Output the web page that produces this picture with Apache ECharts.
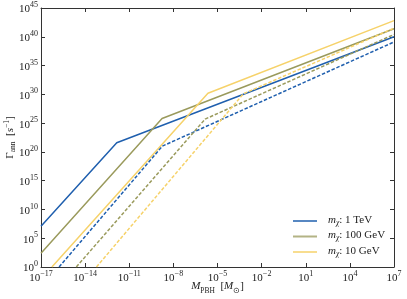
<!DOCTYPE html>
<html><head><meta charset="utf-8">
<script src="https://cdn.jsdelivr.net/npm/echarts@6/dist/echarts.min.js"></script>
<style>html,body{margin:0;padding:0;background:#fff}#c{width:407px;height:299px}</style>
</head><body><div id="c"></div>
<script>
// log10 of PBH mass [M_sun] and log10 of annihilation rate [s^-1]
const mass_1TeV      = [-17, -11.85, 7];
const rate_1TeV      = [7.07, 21.6, 40.0];
const mass_100GeV    = [-17, -8.77, 7];
const rate_100GeV    = [2.38, 25.8, 41.4];
const mass_10GeV     = [-16.26, -5.65, 7];
const rate_10GeV     = [0, 30.2, 42.8];
const mass_1TeV_d    = [-15.77, -8.75, 7];
const rate_1TeV_d    = [0, 21.0, 39.1];
const mass_100GeV_d  = [-14.6, -5.84, 7];
const rate_100GeV_d  = [0, 25.7, 40.4];
const mass_10GeV_d   = [-13.23, -3.24, 7];
const rate_10GeV_d   = [0, 30.1, 41.5];
const legendNames = ['1 TeV', '100 GeV', '10 GeV'];
const xTickExp = [-17, 7, 3];   // min, max, step (decades)
const yTickExp = [0, 45, 5];

const C_BLUE = '#1f5fae', C_OLIVE = '#9a9a5c', C_YELLOW = '#f6d26a';
const FONT = 'Liberation Serif';
const TXT = '#222';

function pts(xs, ys) { return xs.map((x, i) => [Math.pow(10, x), Math.pow(10, ys[i])]); }
function sci(v) {
  const e = Math.round(Math.log10(v));
  return '{b|10}{s|' + (e < 0 ? '\u2212' + (-e) : e) + '}';
}
const tickRich = {
  b: { fontFamily: FONT, fontSize: 11, color: TXT, verticalAlign: 'bottom', lineHeight: 14 },
  s: { fontFamily: FONT, fontSize: 8, color: TXT, verticalAlign: 'top', lineHeight: 14 }
};
const axisLineStyle = { color: '#333', width: 1 };

function line(name, xs, ys, color, dashed) {
  return {
    name: name, type: 'line', data: pts(xs, ys), symbol: 'none', showSymbol: false,
    xAxisIndex: 0, yAxisIndex: 0, clip: true, animation: false,
    lineStyle: { color: color, width: 1.5, type: dashed ? [3.5, 1.8] : 'solid', cap: 'butt' },
    itemStyle: { color: color }
  };
}

const chart = echarts.init(document.getElementById('c'), null, { renderer: 'canvas' });
chart.setOption({
  animation: false,
  backgroundColor: '#fff',
  grid: { left: 41, right: 13, top: 8, bottom: 32, containLabel: false, outerBoundsMode: 'none' },
  xAxis: [
    { type: 'log', logBase: 10, min: Math.pow(10, xTickExp[0]), max: Math.pow(10, xTickExp[1]), interval: xTickExp[2],
      position: 'bottom',
      axisLine: { show: true, lineStyle: axisLineStyle },
      axisTick: { show: true, inside: true, length: 4, lineStyle: axisLineStyle },
      minorTick: { show: false }, splitLine: { show: false },
      axisLabel: { formatter: sci, rich: tickRich, margin: 3 },
      name: '{i|M}{sb|PBH}{t|  [}{i|M}{sb|\u2299}{t|]}', nameLocation: 'middle', nameGap: 14, nameMoveOverlap: false,
      nameTextStyle: { rich: {
        i: { fontFamily: FONT, fontStyle: 'italic', fontSize: 11, color: TXT, verticalAlign: 'top', lineHeight: 14 },
        sb: { fontFamily: FONT, fontSize: 7.5, color: TXT, verticalAlign: 'bottom', lineHeight: 14 },
        t: { fontFamily: FONT, fontSize: 11, color: TXT, verticalAlign: 'top', lineHeight: 14 }
      } } },
    { type: 'log', logBase: 10, min: Math.pow(10, xTickExp[0]), max: Math.pow(10, xTickExp[1]), interval: xTickExp[2],
      position: 'top',
      axisLine: { show: true, lineStyle: axisLineStyle },
      axisTick: { show: true, inside: true, length: 4, lineStyle: axisLineStyle },
      minorTick: { show: false }, splitLine: { show: false }, axisLabel: { show: false } }
  ],
  yAxis: [
    { type: 'log', logBase: 10, min: Math.pow(10, yTickExp[0]), max: Math.pow(10, yTickExp[1]), interval: yTickExp[2],
      position: 'left',
      axisLine: { show: true, lineStyle: axisLineStyle },
      axisTick: { show: true, inside: true, length: 4, lineStyle: axisLineStyle },
      minorTick: { show: false }, splitLine: { show: false },
      axisLabel: { formatter: sci, rich: tickRich, margin: 3 },
      name: '{g|\u0393}{sb|ann}{t|  [}{i|s}{sp|\u22121}{t|]}', nameLocation: 'middle', nameGap: 24, nameRotate: 90, nameMoveOverlap: false,
      nameTextStyle: { rich: {
        g: { fontFamily: FONT, fontSize: 11, color: TXT, verticalAlign: 'middle', lineHeight: 14 },
        i: { fontFamily: FONT, fontStyle: 'italic', fontSize: 11, color: TXT, verticalAlign: 'middle', lineHeight: 14 },
        sb: { fontFamily: FONT, fontSize: 7.5, color: TXT, verticalAlign: 'bottom', lineHeight: 14 },
        sp: { fontFamily: FONT, fontSize: 7.5, color: TXT, verticalAlign: 'top', lineHeight: 14 },
        t: { fontFamily: FONT, fontSize: 11, color: TXT, verticalAlign: 'middle', lineHeight: 14 }
      } } },
    { type: 'log', logBase: 10, min: Math.pow(10, yTickExp[0]), max: Math.pow(10, yTickExp[1]), interval: yTickExp[2],
      position: 'right',
      axisLine: { show: true, lineStyle: axisLineStyle },
      axisTick: { show: true, inside: true, length: 4, lineStyle: axisLineStyle },
      minorTick: { show: false }, splitLine: { show: false }, axisLabel: { show: false } }
  ],
  legend: {
    data: legendNames, orient: 'vertical', left: 288, top: 209, itemGap: 1.5,
    itemWidth: 24, itemHeight: 2, icon: 'rect',
    itemStyle: { opacity: 0.75 },
    formatter: n => '{m|m}{c|\u03c7}{t|: ' + n + '}',
    textStyle: { padding: [0, 0, 0, 6], lineHeight: 14, rich: {
      m: { fontFamily: FONT, fontStyle: 'italic', fontSize: 11, color: TXT, verticalAlign: 'middle', lineHeight: 14, padding: [0, 0, 2, 0] },
      c: { fontFamily: FONT, fontStyle: 'italic', fontSize: 7.5, color: TXT, verticalAlign: 'middle', lineHeight: 14, padding: [4, 0, 0, 0] },
      t: { fontFamily: FONT, fontSize: 11, color: TXT, verticalAlign: 'middle', lineHeight: 14, padding: [0, 0, 2, 0] }
    } }
  },
  series: [
    line('1 TeV', mass_1TeV, rate_1TeV, C_BLUE, false),
    line('100 GeV', mass_100GeV, rate_100GeV, C_OLIVE, false),
    line('10 GeV', mass_10GeV, rate_10GeV, C_YELLOW, false),
    line('1 TeV dashed', mass_1TeV_d, rate_1TeV_d, C_BLUE, true),
    line('100 GeV dashed', mass_100GeV_d, rate_100GeV_d, C_OLIVE, true),
    line('10 GeV dashed', mass_10GeV_d, rate_10GeV_d, C_YELLOW, true)
  ]
});
</script></body></html>
